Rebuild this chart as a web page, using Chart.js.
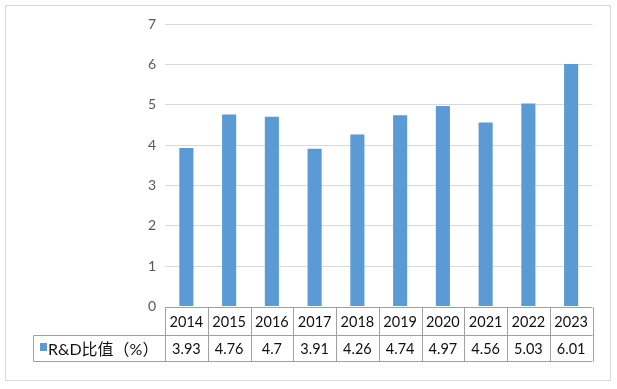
<!DOCTYPE html>
<html>
<head>
<meta charset="utf-8">
<script src="https://cdn.jsdelivr.net/npm/chart.js@4.4.0/dist/chart.umd.min.js"></script>
<style>
    body { margin: 0; background: #fff; }
    canvas { display: block; }
</style>
</head>
<body>
<canvas id="rdChart" width="617" height="389"></canvas>
<script>
const years = ['2014', '2015', '2016', '2017', '2018', '2019', '2020', '2021', '2022', '2023'];
const rdRatio = [3.93, 4.76, 4.7, 3.91, 4.26, 4.74, 4.97, 4.56, 5.03, 6.01];
const rdLabels = ['3.93', '4.76', '4.7', '3.91', '4.26', '4.74', '4.97', '4.56', '5.03', '6.01'];
const seriesName = 'R&D比值（%）';

const barColor = '#5b9bd5';
const lineColor = '#a0a0a0';

// draws the frame and the data table under the plot
const dataTable = {
    id: 'dataTable',
    beforeDraw(chart) {
        const ctx = chart.ctx;
        ctx.save();
        ctx.strokeStyle = '#d9d9d9';
        ctx.lineWidth = 1;
        ctx.strokeRect(5.5, 5.5, 605, 375);
        ctx.restore();
    },
    afterDraw(chart) {
        const ctx = chart.ctx;
        const area = chart.chartArea;
        const x = chart.scales.x;
        const n = years.length;
        const colW = (area.right - area.left) / n;
        const top = Math.round(area.bottom) + 0.5;
        const mid = top + 28;
        const bottom = mid + 26;
        const labelLeft = 33.5;

        ctx.save();
        ctx.strokeStyle = lineColor;
        ctx.lineWidth = 1;
        ctx.beginPath();
        ctx.moveTo(area.left, top);
        ctx.lineTo(area.right, top);
        ctx.moveTo(labelLeft, mid);
        ctx.lineTo(area.right, mid);
        ctx.moveTo(labelLeft, bottom);
        ctx.lineTo(area.right, bottom);
        ctx.moveTo(labelLeft, mid);
        ctx.lineTo(labelLeft, bottom);
        for (let i = 0; i <= n; i++) {
            const cx = Math.round(area.left + i * colW) + 0.5;
            ctx.moveTo(cx, top);
            ctx.lineTo(cx, bottom);
        }
        ctx.stroke();

        ctx.fillStyle = '#111';
        ctx.font = '14.5px Lato';
        ctx.textAlign = 'center';
        ctx.textBaseline = 'middle';
        years.forEach((y, i) => {
            const cx = x.getPixelForValue(i);
            ctx.fillText(y, cx, (top + mid) / 2 + 1);
            ctx.fillText(rdLabels[i], cx, (mid + bottom) / 2 + 1);
        });

        ctx.fillStyle = barColor;
        ctx.fillRect(40, 343, 7, 8);
        ctx.fillStyle = '#111';
        ctx.textAlign = 'left';
        ctx.font = '16px Lato, "Noto Sans CJK SC"';
        ctx.fillText(seriesName, 48, (mid + bottom) / 2 + 1);
        ctx.restore();
    }
};

new Chart(document.getElementById('rdChart'), {
    type: 'bar',
    data: {
        labels: years,
        datasets: [{
            label: seriesName,
            data: rdRatio,
            backgroundColor: barColor,
            categoryPercentage: 1,
            barPercentage: 0.33
        }]
    },
    options: {
        responsive: false,
        animation: false,
        layout: {
            padding: { left: 0, right: 24.5, top: 24, bottom: 82.5 }
        },
        plugins: {
            legend: { display: false },
            tooltip: { enabled: false }
        },
        scales: {
            x: {
                display: false
            },
            y: {
                min: 0,
                max: 7,
                afterFit(scale) {
                    scale.width = 165;
                },
                ticks: {
                    stepSize: 1,
                    padding: 9,
                    color: '#595959',
                    font: { family: 'Lato', size: 14 }
                },
                border: { display: false },
                grid: {
                    drawTicks: false,
                    color: ctx => ctx.tick.value === 0 ? 'rgba(0,0,0,0)' : '#d9d9d9'
                }
            }
        }
    },
    plugins: [dataTable]
});
</script>
</body>
</html>
